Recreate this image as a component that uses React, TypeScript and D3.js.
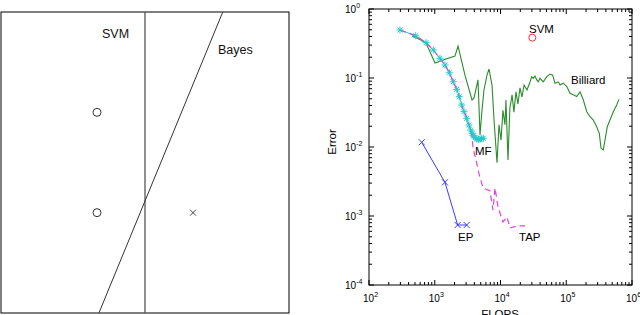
import React from 'react';
import * as d3 from 'd3';

// left panel: toy 2-D classification example
const circlePoints = [
  { x: -1, y: 1 },
  { x: -1, y: 0 },
];
const crossPoints = [{ x: 1, y: 0 }];
const svmLine = [
  { x: 0, y: -1 },
  { x: 0, y: 2 },
];
const bayesLine = [
  { x: -0.96, y: -1 },
  { x: 1.62, y: 2 },
];

// right panel: error vs FLOPS
const mfFlops = [296, 513, 736, 950, 1200, 1430, 1670, 1910, 2160, 2360, 2570, 2790, 3060, 3320, 3520, 3720, 3860, 4100, 4350, 4620, 4880, 5170, 5470];
const mfError = [0.496, 0.41, 0.325, 0.255, 0.193, 0.154, 0.119, 0.0883, 0.0686, 0.0536, 0.0406, 0.0325, 0.026, 0.0208, 0.0176, 0.0158, 0.0145, 0.0136, 0.0131, 0.0129, 0.013, 0.0132, 0.0134];

const tapFlops = [296, 513, 736, 950, 1200, 1430, 1670, 1910, 2160, 2360, 2570, 2790, 3060, 3320, 3520, 3700, 3820, 4240, 4710, 5420, 6920, 7690, 8250, 9160, 10900, 12560, 13940, 18450, 23600];
const tapError = [0.496, 0.41, 0.325, 0.255, 0.193, 0.154, 0.119, 0.0883, 0.0686, 0.0536, 0.0406, 0.0325, 0.026, 0.0208, 0.0176, 0.014, 0.0097, 0.0065, 0.0041, 0.00255, 0.0023, 0.00122, 0.00255, 0.00135, 0.00082, 0.00097, 0.00067, 0.00072, 0.00072];

const epFlops = [633, 1430, 2230, 3060];
const epError = [0.0117, 0.00308, 0.00074, 0.00074];

const billiardFlops = [451, 576, 736, 1010, 1480, 2030, 2260, 2880, 3690, 3950, 4550, 4880, 5230, 5610, 6230, 6690, 7430, 7970, 8850, 9490, 10200, 10900, 11700, 12100, 13000, 13900, 15000, 16000, 17200, 18400, 19800, 21200, 22800, 25300, 28100, 29800, 31500, 33500, 35600, 37600, 39900, 44800, 50500, 56600, 62200, 67400, 75700, 80400, 90200, 102000, 114000, 128000, 144000, 162000, 182000, 205000, 230000, 258000, 290000, 318000, 338000, 366000, 388000, 421000, 462000, 520000, 585000, 634000];
const billiardError = [0.406, 0.367, 0.321, 0.165, 0.188, 0.208, 0.291, 0.11, 0.048, 0.051, 0.094, 0.0149, 0.034, 0.067, 0.11, 0.135, 0.079, 0.0246, 0.0059, 0.021, 0.0126, 0.034, 0.021, 0.048, 0.0065, 0.037, 0.057, 0.032, 0.063, 0.042, 0.072, 0.053, 0.079, 0.067, 0.0875, 0.1045, 0.099, 0.107, 0.094, 0.088, 0.099, 0.088, 0.1045, 0.114, 0.11, 0.084, 0.088, 0.079, 0.084, 0.075, 0.06, 0.057, 0.054, 0.063, 0.048, 0.0325, 0.0275, 0.0246, 0.0197, 0.0158, 0.0096, 0.0091, 0.0126, 0.0197, 0.0246, 0.0325, 0.0406, 0.049];

const svmFlops = [30500];
const svmError = [0.384];

const xDecades = [2, 3, 4, 5, 6];
const yDecades = [0, -1, -2, -3, -4];

const font = '"Liberation Sans", Arial, sans-serif';

function zip(xs: number[], ys: number[]) {
  return xs.map((x, i) => [x, ys[i]] as [number, number]);
}

function LeftPanel() {
  const x = d3.scaleLinear().domain([-3, 3]).range([1, 289]);
  const y = d3.scaleLinear().domain([-1, 2]).range([313, 12]);
  const line = d3
    .line<{ x: number; y: number }>()
    .x((d) => x(d.x))
    .y((d) => y(d.y));
  return (
    <g>
      <rect x={1} y={12} width={288} height={301} fill="none" stroke="#000" strokeWidth={1} />
      <path d={line(svmLine) || ''} stroke="#555" strokeWidth={1.3} fill="none" />
      <path d={line(bayesLine) || ''} stroke="#333" strokeWidth={1} fill="none" />
      {circlePoints.map((d, i) => (
        <circle key={i} cx={x(d.x)} cy={y(d.y)} r={4} fill="none" stroke="#333" strokeWidth={1} />
      ))}
      {crossPoints.map((d, i) => (
        <path
          key={i}
          d={`M${x(d.x) - 3},${y(d.y) - 3}L${x(d.x) + 3},${y(d.y) + 3}M${x(d.x) - 3},${y(d.y) + 3}L${x(d.x) + 3},${y(d.y) - 3}`}
          stroke="#444"
          strokeWidth={1}
        />
      ))}
      <text x={102} y={38} fontFamily={font} fontSize={12.5} fill="#111">SVM</text>
      <text x={218} y={54} fontFamily={font} fontSize={12.5} fill="#111">Bayes</text>
    </g>
  );
}

function RightPanel() {
  const left = 369;
  const right = 632;
  const top = 9;
  const bottom = 285;
  const x = d3.scaleLog().domain([1e2, 1e6]).range([left, right]);
  const y = d3.scaleLog().domain([1e-4, 1]).range([bottom, top]);
  const line = d3
    .line<[number, number]>()
    .x((d) => x(d[0]))
    .y((d) => y(d[1]));

  const xTicks: { v: number; major: boolean }[] = [];
  xDecades.forEach((e) => {
    for (let m = 1; m <= 9; m++) {
      const v = m * Math.pow(10, e);
      if (v <= 1e6) xTicks.push({ v, major: m === 1 });
    }
  });
  const yTicks: { v: number; major: boolean }[] = [];
  yDecades.forEach((e) => {
    for (let m = 1; m <= 9; m++) {
      const v = m * Math.pow(10, e);
      if (v <= 1) yTicks.push({ v, major: m === 1 });
    }
  });

  const mf = zip(mfFlops, mfError);
  const tap = zip(tapFlops, tapError);
  const ep = zip(epFlops, epError);
  const bil = zip(billiardFlops, billiardError);
  const svm = zip(svmFlops, svmError);

  const star = (cx: number, cy: number, s: number) =>
    `M${cx - s},${cy}L${cx + s},${cy}M${cx},${cy - s}L${cx},${cy + s}` +
    `M${cx - s * 0.7},${cy - s * 0.7}L${cx + s * 0.7},${cy + s * 0.7}M${cx - s * 0.7},${cy + s * 0.7}L${cx + s * 0.7},${cy - s * 0.7}`;
  const cross = (cx: number, cy: number, s: number) =>
    `M${cx - s},${cy - s}L${cx + s},${cy + s}M${cx - s},${cy + s}L${cx + s},${cy - s}`;

  return (
    <g>
      <clipPath id="plotclip">
        <rect x={left} y={top} width={right - left} height={bottom - top} />
      </clipPath>
      <g clipPath="url(#plotclip)">
        <path d={line(bil) || ''} stroke="#2b8c2b" strokeWidth={1.1} fill="none" />
        <path d={line(mf) || ''} stroke="#22c8c8" strokeWidth={1} fill="none" />
        <path d={line(tap) || ''} stroke="#dd44dd" strokeWidth={1.2} strokeDasharray="6,4" fill="none" />
        {mf.map((d, i) => (
          <path key={i} d={star(x(d[0]), y(d[1]), 3.5)} stroke="#22c8c8" strokeWidth={1} />
        ))}
        <path d={line(ep) || ''} stroke="#3a3aff" strokeWidth={1} fill="none" />
        {ep.map((d, i) => (
          <path key={i} d={cross(x(d[0]), y(d[1]), 3)} stroke="#3a3aff" strokeWidth={1} />
        ))}
        {svm.map((d, i) => (
          <circle key={i} cx={x(d[0])} cy={y(d[1])} r={3.5} fill="none" stroke="#ff3030" strokeWidth={1} />
        ))}
      </g>
      {/* ticks */}
      {xTicks.map((t, i) => {
        const len = t.major ? 5 : 3;
        const px = x(t.v);
        return (
          <g key={'x' + i}>
            <line x1={px} x2={px} y1={bottom} y2={bottom - len} stroke="#000" strokeWidth={1} />
            <line x1={px} x2={px} y1={top} y2={top + len} stroke="#000" strokeWidth={1} />
          </g>
        );
      })}
      {yTicks.map((t, i) => {
        const len = t.major ? 5 : 3;
        const py = y(t.v);
        return (
          <g key={'y' + i}>
            <line x1={left} x2={left + len} y1={py} y2={py} stroke="#000" strokeWidth={1} />
            <line x1={right} x2={right - len} y1={py} y2={py} stroke="#000" strokeWidth={1} />
          </g>
        );
      })}
      <rect x={left} y={top} width={right - left} height={bottom - top} fill="none" stroke="#000" strokeWidth={1} />
      {/* tick labels */}
      {xDecades.map((e) => (
        <text key={'xl' + e} x={x(Math.pow(10, e)) - 6} y={302} fontFamily={font} fontSize={10} fill="#000">
          10<tspan dy={-5} fontSize={7}>{e}</tspan>
        </text>
      ))}
      {yDecades.map((e) => (
        <text key={'yl' + e} x={345} y={y(Math.pow(10, e)) + 4} fontFamily={font} fontSize={10} fill="#000">
          10<tspan dy={-5} fontSize={7}>{e === 0 ? '0' : '-' + -e}</tspan>
        </text>
      ))}
      <text x={500} y={318} textAnchor="middle" fontFamily={font} fontSize={11.5} fill="#000">FLOPS</text>
      <text transform="translate(336,142) rotate(-90)" textAnchor="middle" fontFamily={font} fontSize={11.5} fill="#000">Error</text>
      {/* series labels */}
      <text x={529} y={33} fontFamily={font} fontSize={11.5} fill="#000">SVM</text>
      <text x={571} y={84} fontFamily={font} fontSize={11.5} fill="#000">Billiard</text>
      <text x={475} y={155} fontFamily={font} fontSize={11.5} fill="#000">MF</text>
      <text x={458} y={241} fontFamily={font} fontSize={11.5} fill="#000">EP</text>
      <text x={519} y={241} fontFamily={font} fontSize={11.5} fill="#000">TAP</text>
    </g>
  );
}

export default function App() {
  return (
    <svg
      width={640}
      height={315}
      style={{ position: 'absolute', left: 0, top: 0, background: '#fff' }}
    >
      <LeftPanel />
      <RightPanel />
    </svg>
  );
}
